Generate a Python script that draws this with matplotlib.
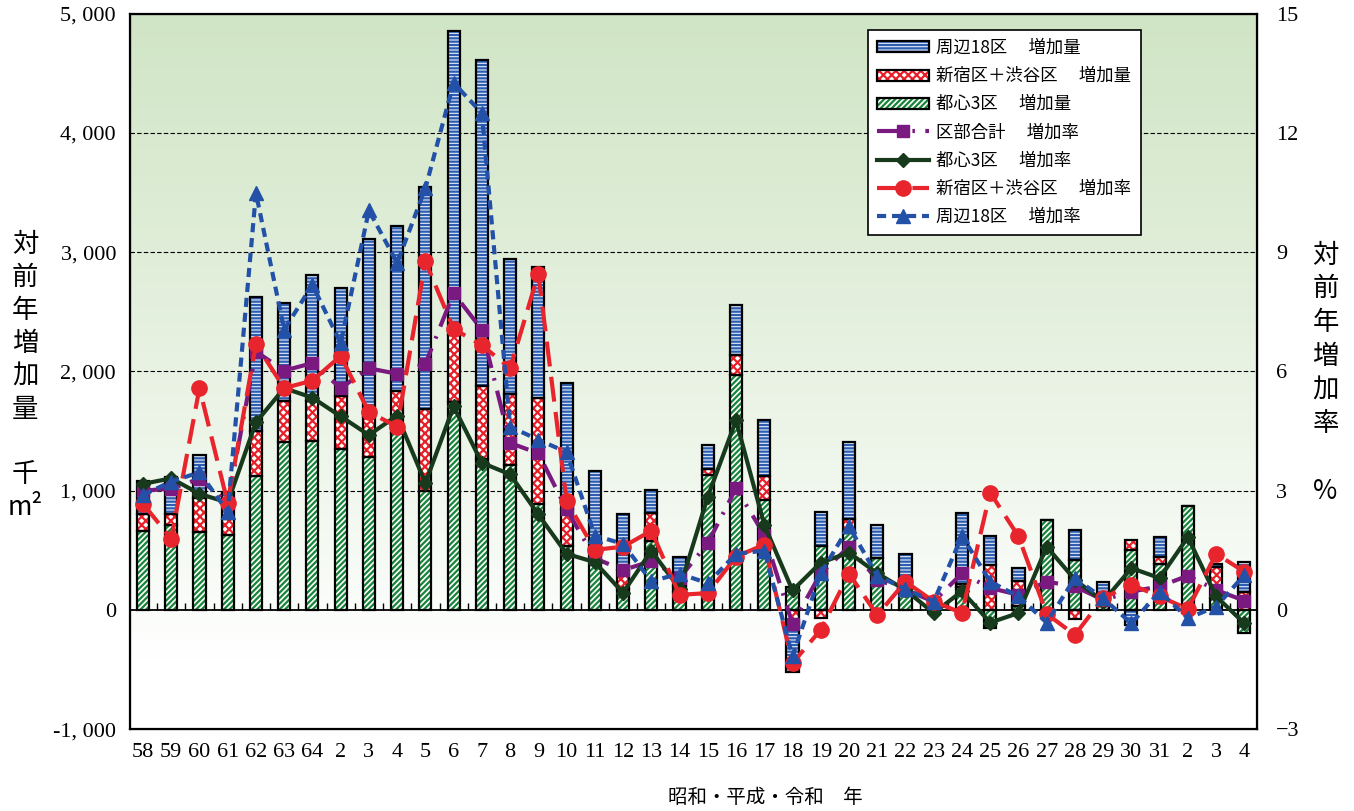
import numpy as np
import matplotlib
matplotlib.use("Agg")
import matplotlib.pyplot as plt
from matplotlib.patches import Patch
from matplotlib.ticker import FuncFormatter

plt.rcParams['hatch.linewidth'] = 1.6
jp = ['Noto Sans CJK JP', 'DejaVu Sans']
num_font = 'Liberation Serif'

# 昭和58年〜令和4年
years = ['58', '59', '60', '61', '62', '63', '64'] + [str(i) for i in range(2, 32)] + ['2', '3', '4']

# 対前年増加量（千m2）
inc_core3 = [665, 713, 654, 624, 1124, 1407, 1415, 1353, 1281, 1482,
             998, 1744, 1263, 1215, 885, 532, 520, 173, 574, 150,
             1135, 1970, 924, 196, 538, 650, 434, 250, -20, 196,
             -150, 30, 756, 420, 70, 504, 387, 874, 100, -190]
inc_shinjuku_shibuya = [138, 90, 286, 139, 378, 349, 341, 437, 338, 358,
                        691, 561, 615, 593, 891, 314, 60, 160, 240, 50,
                        48, 170, 202, -100, -70, 110, 0, 0, 0, 20,
                        378, 210, 0, -78, 0, 79, 56, 0, 263, 150]
inc_outer18 = [282, 315, 355, 227, 1123, 822, 1057, 911, 1491, 1384,
               1862, 2554, 2734, 1138, 1096, 1058, 587, 475, 192, 246,
               196, 420, 465, -420, 280, 645, 277, 220, 90, 596,
               244, 110, -20, 252, 160, -126, 165, -30, 20, 250]

# 対前年増加率（%）
rate_total = [3.0, 3.05, 3.3, 2.7, 6.5, 6.02, 6.21, 5.58, 6.08, 5.94,
              6.19, 7.97, 7.05, 4.2, 3.94, 2.53, 1.3, 1.0, 1.23, 0.8,
              1.68, 3.06, 1.89, -0.35, 0.92, 1.59, 0.76, 0.5, 0.21, 0.92,
              0.55, 0.38, 0.71, 0.59, 0.25, 0.46, 0.59, 0.86, 0.5, 0.23]
rate_core3 = [3.17, 3.31, 2.92, 2.7, 4.72, 5.58, 5.34, 4.87, 4.4, 4.89,
              3.19, 5.12, 3.7, 3.41, 2.4, 1.41, 1.2, 0.43, 1.49, 0.53,
              2.85, 4.77, 2.14, 0.49, 1.19, 1.44, 0.92, 0.5, -0.08, 0.47,
              -0.32, -0.08, 1.59, 0.76, 0.21, 1.05, 0.8, 1.83, 0.34, -0.34]
rate_shinjuku_shibuya = [2.67, 1.79, 5.58, 2.69, 6.69, 5.58, 5.77, 6.39, 4.98, 4.61,
                         8.77, 7.07, 6.66, 6.08, 8.46, 2.74, 1.51, 1.59, 1.99, 0.38,
                         0.42, 1.34, 1.64, -1.34, -0.5, 0.91, -0.13, 0.71, 0.21, -0.08,
                         2.95, 1.85, -0.1, -0.63, 0.3, 0.63, 0.34, 0.02, 1.41, 0.96]
rate_outer18 = [2.89, 3.23, 3.46, 2.47, 10.49, 7.05, 8.18, 6.71, 10.05, 8.73,
                10.61, 13.26, 12.5, 4.61, 4.28, 3.97, 1.87, 1.66, 0.72, 0.91,
                0.67, 1.41, 1.49, -1.17, 0.92, 2.1, 0.86, 0.52, 0.21, 1.86,
                0.71, 0.34, -0.32, 0.8, 0.29, -0.34, 0.46, -0.21, 0.08, 0.88]

x = np.arange(len(years))
width = 0.43

fig = plt.figure(figsize=(13.54, 8.11), dpi=100)
ax = fig.add_axes([0.096, 0.101, 0.832, 0.882])
ax.set_xlim(-0.46, len(years) - 1 + 0.43)
ax.set_ylim(-1000, 5000)

# background: light green at the top fading to white near the bottom
top = np.array([0.816, 0.898, 0.773])
grad_y = np.linspace(5000, -1000, 400)
t = np.clip((grad_y - (-400)) / (5000 - (-400)), 0, 1)[:, None] ** 0.9
grad = (1 - t) * np.array([1.0, 1.0, 1.0]) + t * top
ax.imshow(grad[:, None, :], extent=[-0.46, len(years) - 0.57, -1000, 5000],
          aspect='auto', zorder=0, interpolation='bilinear')

for v in [1000, 2000, 3000, 4000]:
    ax.axhline(v, color='black', lw=0.8, ls=(0, (4, 2)), zorder=1)
ax.axhline(0, color='black', lw=1.3, zorder=3)
ax.vlines(x[:-1] + 0.5, 0, 55, color='black', lw=1, zorder=3)

bar_styles = [
    (inc_core3, 'white', '#17843a', '//////', '都心3区　 増加量'),
    (inc_shinjuku_shibuya, 'white', '#e8202a', 'xxxx', '新宿区＋渋谷区　 増加量'),
    (inc_outer18, '#e4ecf7', '#2c5db0', '-----', '周辺18区　 増加量'),
]
pos_base = np.zeros(len(x))
neg_base = np.zeros(len(x))
bar_handles = []
for vals, face, hc, hatch, label in bar_styles:
    vals = np.array(vals, dtype=float)
    bottom = np.where(vals >= 0, pos_base, neg_base)
    ax.bar(x, vals, width, bottom=bottom, facecolor=face, edgecolor=hc,
           hatch=hatch, linewidth=0, zorder=2)
    ax.bar(x, vals, width, bottom=bottom, fill=False, edgecolor='black',
           linewidth=1.6, zorder=2.5)
    pos_base += np.where(vals > 0, vals, 0)
    neg_base += np.where(vals < 0, vals, 0)
    bar_handles.append(((Patch(facecolor=face, edgecolor=hc, hatch=hatch, lw=0),
                         Patch(fill=False, edgecolor='black', lw=1.6)), label))

ax.yaxis.set_major_formatter(FuncFormatter(lambda v, p: f"{int(v):,}".replace(',', ', ')))
ax.set_yticks(range(-1000, 5001, 1000))
ax.set_xticks(x)
ax.set_xticklabels(years)
ax.tick_params(axis='both', length=0, labelsize=16, pad=10)
for lab in ax.get_xticklabels() + ax.get_yticklabels():
    lab.set_family(num_font)
for s in ax.spines.values():
    s.set_linewidth(1.6)

ax2 = ax.twinx()
ax2.set_ylim(-3, 15)
ax2.set_yticks(range(-3, 16, 3))
ax2.tick_params(axis='y', length=0, labelsize=16, pad=14)
for lab in ax2.get_yticklabels():
    lab.set_family(num_font)

l1, = ax2.plot(x, rate_total, color='#7a1a80', lw=3, ls=(0, (6, 2.5, 0.6, 2.5)),
               marker='s', ms=9, label='区部合計　 増加率')
l2, = ax2.plot(x, rate_core3, color='#17391c', lw=3, ls='-',
               marker='D', ms=7.5, label='都心3区　 増加率')
l3, = ax2.plot(x, rate_shinjuku_shibuya, color='#e8242c', lw=3, ls=(0, (6, 2.5)),
               marker='o', ms=11, label='新宿区＋渋谷区　 増加率')
l4, = ax2.plot(x, rate_outer18, color='#2351a8', lw=3, ls=(0, (2.2, 1.4)),
               marker='^', ms=10, label='周辺18区　 増加率')

handles = [bar_handles[2][0], bar_handles[1][0], bar_handles[0][0], l1, l2, l3, l4]
labels = [bar_handles[2][1], bar_handles[1][1], bar_handles[0][1],
          l1.get_label(), l2.get_label(), l3.get_label(), l4.get_label()]
leg = ax2.legend(handles, labels, loc='upper left', bbox_to_anchor=(0.655, 0.978),
                 prop={'family': jp, 'size': 12.5}, frameon=True, fancybox=False,
                 framealpha=1, edgecolor='black', handlelength=3.0, handleheight=0.6,
                 borderpad=0.55, labelspacing=0.58, borderaxespad=0, handletextpad=0.4)
leg.get_frame().set_linewidth(1.2)

fig.text(0.0185, 0.536, '対\n前\n年\n増\n加\n量\n\n千\nm²', ha='center', va='center',
         fontsize=19, family=jp, linespacing=1.28)
fig.text(0.979, 0.54, '対\n前\n年\n増\n加\n率\n\n%', ha='center', va='center',
         fontsize=19, family=jp, linespacing=1.32)
fig.text(0.565, 0.017, '昭和・平成・令和　年', ha='center', va='center',
         fontsize=14, family=jp)

fig.savefig('out.png', dpi=100)
